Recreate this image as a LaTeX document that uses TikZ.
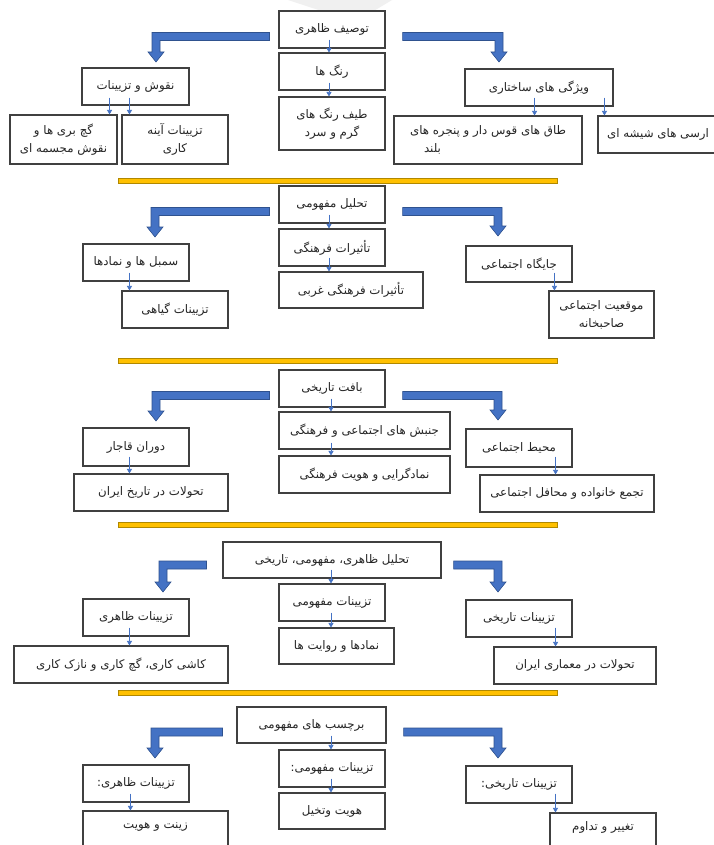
\documentclass[tikz,border=0pt]{standalone}
\usepackage{fontspec}
\usetikzlibrary{arrows.meta,calc}
\TeXXeTstate=1
\newfontfamily\arabicfont[Script=Arabic]{DejaVu Sans}
\newcommand{\fa}[1]{\beginR #1\endR}
\definecolor{boxline}{HTML}{404040}
\definecolor{arrowblue}{HTML}{4472C4}
\definecolor{arrowdark}{HTML}{2F528F}
\definecolor{sepfill}{HTML}{FFC000}
\definecolor{sepline}{HTML}{B08800}
\definecolor{txt}{HTML}{262626}
\tikzset{
 box/.style={draw=boxline, line width=1.1pt, fill=white, inner sep=2pt, align=center, text=txt,
   font=\arabicfont\fontsize{11.8}{18}\selectfont},
 smallarrow/.style={draw=arrowblue, line width=0.7pt, -{Triangle[length=4.5pt,width=5pt]}},
 bigarrow/.style={fill=arrowblue, draw=arrowdark, line width=0.6pt, line join=miter},
 sepbar/.style={fill=sepfill, draw=sepline, line width=0.6pt},
}
\newcommand{\bx}[7][]{\node[box,#1, minimum width={(#5-#3)*1pt}, minimum height={(#6-#4)*1pt}] (#2) at ({(#3+#5)/2},{(#4+#6)/2}) {#7};}
% #1 start coordinate, #2 tip coordinate, #3 sign (-1 left, +1 right)
\newcommand{\bendarrow}[3]{%
 \path[bigarrow] let \p1=(#1), \p2=(#2) in
 (\x1,{\y1+4pt}) -- ({\x2+(#3)*4pt},{\y1+4pt}) -- ({\x2+(#3)*4pt},{\y2+10pt})
 -- ({\x2+(#3)*8pt},{\y2+10pt}) -- (\x2,\y2) -- ({\x2-(#3)*8pt},{\y2+10pt})
 -- ({\x2-(#3)*4pt},{\y2+10pt}) -- ({\x2-(#3)*4pt},{\y1-4pt}) -- (\x1,{\y1-4pt}) -- cycle;}
\begin{document}
\begin{tikzpicture}[x=1pt,y=-1pt]
\useasboundingbox (0,0) rectangle (713,845);
\fill[white] (0,0) rectangle (713,845);
\fill[gray!12] (288,0) -- (392,0) -- (372,12) -- (340,17) -- cycle;
% separators
\path[sepbar] (118,178) rectangle (557,183);
\path[sepbar] (118,358) rectangle (557,363);
\path[sepbar] (118,522) rectangle (557,527);
\path[sepbar] (118,690) rectangle (557,695);
% ---------- section 1
\bx{t1}{279}{11}{385}{48}{\fa{توصیف ظاهری}}
\bx{c1a}{279}{53}{385}{90}{\fa{رنگ ها}}
\bx{c1b}{279}{97}{385}{150}{\fa{طیف رنگ های}\\\fa{گرم و سرد}}
\bx{L1}{82}{68}{189}{105}{\fa{نقوش و تزیینات}}
\bx{L1a}{122}{115}{228}{164}{\fa{تزیینات آینه}\\\fa{کاری}}
\bx{L1b}{10}{115}{117}{164}{\fa{گچ بری ها و}\\\fa{نقوش مجسمه ای}}
\bx{R1}{465}{69}{613}{106}{\fa{ویژگی های ساختاری}}
\bx[align=left]{R1a}{394}{116}{582}{164}{\fa{طاق های قوس دار و پنجره های}\\\hspace*{14pt}\fa{بلند}}
\bx{R1b}{598}{116}{718}{153}{\fa{ارسی های شیشه ای}}
% ---------- section 2
\bx{t2}{279}{186}{385}{223}{\fa{تحلیل مفهومی}}
\bx{c2a}{279}{229}{385}{266}{\fa{تأثیرات فرهنگی}}
\bx{c2b}{279}{272}{423}{308}{\fa{تأثیرات فرهنگی غربی}}
\bx{L2}{83}{244}{189}{281}{\fa{سمبل ها و نمادها}}
\bx{L2a}{122}{291}{228}{328}{\fa{تزیینات گیاهی}}
\bx{R2}{466}{246}{572}{282}{\fa{جایگاه اجتماعی}}
\bx{R2a}{549}{291}{654}{338}{\fa{موقعیت اجتماعی}\\\fa{صاحبخانه}}
% ---------- section 3
\bx{t3}{279}{370}{385}{407}{\fa{بافت تاریخی}}
\bx{c3a}{279}{412}{450}{449}{\fa{جنبش های اجتماعی و فرهنگی}}
\bx{c3b}{279}{456}{450}{493}{\fa{نمادگرایی و هویت فرهنگی}}
\bx{L3}{83}{428}{189}{466}{\fa{دوران قاجار}}
\bx{L3a}{74}{474}{228}{511}{\fa{تحولات در تاریخ ایران}}
\bx{R3}{466}{429}{572}{467}{\fa{محیط اجتماعی}}
\bx{R3a}{480}{475}{654}{512}{\fa{تجمع خانواده و محافل اجتماعی}}
% ---------- section 4
\bx{t4}{223}{542}{441}{578}{\fa{تحلیل ظاهری، مفهومی، تاریخی}}
\bx{c4a}{279}{584}{385}{621}{\fa{تزیینات مفهومی}}
\bx{c4b}{279}{628}{394}{664}{\fa{نمادها و روایت ها}}
\bx{L4}{83}{599}{189}{636}{\fa{تزیینات ظاهری}}
\bx{L4a}{14}{646}{228}{683}{\fa{کاشی کاری، گچ کاری و نازک کاری}}
\bx{R4}{466}{600}{572}{637}{\fa{تزیینات تاریخی}}
\bx{R4a}{494}{647}{656}{684}{\fa{تحولات در معماری ایران}}
% ---------- section 5
\bx{t5}{237}{707}{386}{743}{\fa{برچسب های مفهومی}}
\bx{c5a}{279}{750}{385}{787}{\fa{تزیینات مفهومی:}}
\bx{c5b}{279}{793}{385}{829}{\fa{هویت وتخیل}}
\bx{L5}{83}{765}{189}{802}{\fa{تزیینات ظاهری:}}
\bx[text depth=11pt]{L5a}{83}{811}{228}{851}{\fa{زینت و هویت}}
\bx{R5}{466}{766}{572}{803}{\fa{تزیینات تاریخی:}}
\bx[text depth=11pt]{R5a}{550}{813}{656}{851}{\fa{تغییر و تداوم}}
% ---------- small arrows, centre columns
\draw[smallarrow] ($(t1.south)+(-3,-9)$) -- ($(c1a.north)+(-3,0)$);
\draw[smallarrow] ($(c1a.south)+(-3,-8)$) -- ($(c1b.north)+(-3,0)$);
\draw[smallarrow] ($(t2.south)+(-3,-9)$) -- ($(c2a.north)+(-3,0)$);
\draw[smallarrow] ($(c2a.south)+(-3,-9)$) -- ($(c2b.north -| c2a.south)+(-3,0)$);
\draw[smallarrow] ($(t3.south)+(-1,-9)$) -- ($(c3a.north -| t3.south)+(-1,0)$);
\draw[smallarrow] ($(c3a.south -| t3.south)+(-1,-7)$) -- ($(c3b.north -| t3.south)+(-1,0)$);
\draw[smallarrow] ($(t4.south)+(-1,-9)$) -- ($(c4a.north)+(-1,0)$);
\draw[smallarrow] ($(c4a.south)+(-1,-9)$) -- ($(c4b.north -| c4a.south)+(-1,0)$);
\draw[smallarrow] ($(t5.south -| c5a.north)+(-1,-8)$) -- ($(c5a.north)+(-1,0)$);
\draw[smallarrow] ($(c5a.south)+(-1,-9)$) -- ($(c5b.north)+(-1,0)$);
% ---------- small arrows, side columns
\draw[smallarrow] ($(L1.south -| L1a.west)+(8,-8)$) -- ($(L1a.north west)+(8,0)$);
\draw[smallarrow] ($(L1.south -| L1b.east)+(-8,-8)$) -- ($(L1b.north east)+(-8,0)$);
\draw[smallarrow] ($(R1.south -| R1a.east)+(-48,-9)$) -- ($(R1a.north east)+(-48,0)$);
\draw[smallarrow] ($(R1.south -| R1b.west)+(7,-9)$) -- ($(R1b.north west)+(7,0)$);
\draw[smallarrow] ($(L2.south -| L2a.west)+(8,-9)$) -- ($(L2a.north west)+(8,0)$);
\draw[smallarrow] ($(R2.south -| R2a.west)+(6,-10)$) -- ($(R2a.north west)+(6,0)$);
\draw[smallarrow] ($(L3.south west)+(47,-10)$) -- ($(L3a.north -| L3.south west)+(47,0)$);
\draw[smallarrow] ($(R3.south east)+(-17,-11)$) -- ($(R3a.north -| R3.south east)+(-17,0)$);
\draw[smallarrow] ($(L4.south west)+(47,-9)$) -- ($(L4a.north -| L4.south west)+(47,0)$);
\draw[smallarrow] ($(R4.south east)+(-17,-10)$) -- ($(R4a.north -| R4.south east)+(-17,0)$);
\draw[smallarrow] ($(L5.south west)+(48,-9)$) -- ($(L5a.north -| L5.south west)+(48,0)$);
\draw[smallarrow] ($(R5.south -| R5a.west)+(6,-10)$) -- ($(R5a.north west)+(6,0)$);
% ---------- big bent arrows
\coordinate (s1L) at ($(t1.west)+(-9,7)$);  \coordinate (e1L) at (156,62);
\coordinate (s1R) at ($(t1.east)+(17,7)$);  \coordinate (e1R) at (499,62);
\coordinate (s2L) at ($(t2.west)+(-9,7)$);  \coordinate (e2L) at (155,237);
\coordinate (s2R) at ($(t2.east)+(17,7)$);  \coordinate (e2R) at (498,236);
\coordinate (s3L) at ($(t3.west)+(-9,7)$);  \coordinate (e3L) at (156,421);
\coordinate (s3R) at ($(t3.east)+(17,7)$);  \coordinate (e3R) at (498,420);
\coordinate (s4L) at ($(t4.west)+(-16,5)$); \coordinate (e4L) at (163,592);
\coordinate (s4R) at ($(t4.east)+(12,5)$);  \coordinate (e4R) at (498,592);
\coordinate (s5L) at ($(t5.west)+(-14,7)$); \coordinate (e5L) at (155,758);
\coordinate (s5R) at ($(t5.east)+(17,7)$);  \coordinate (e5R) at (498,758);
\bendarrow{s1L}{e1L}{-1} \bendarrow{s1R}{e1R}{1}
\bendarrow{s2L}{e2L}{-1} \bendarrow{s2R}{e2R}{1}
\bendarrow{s3L}{e3L}{-1} \bendarrow{s3R}{e3R}{1}
\bendarrow{s4L}{e4L}{-1} \bendarrow{s4R}{e4R}{1}
\bendarrow{s5L}{e5L}{-1} \bendarrow{s5R}{e5R}{1}
\end{tikzpicture}
\end{document}
